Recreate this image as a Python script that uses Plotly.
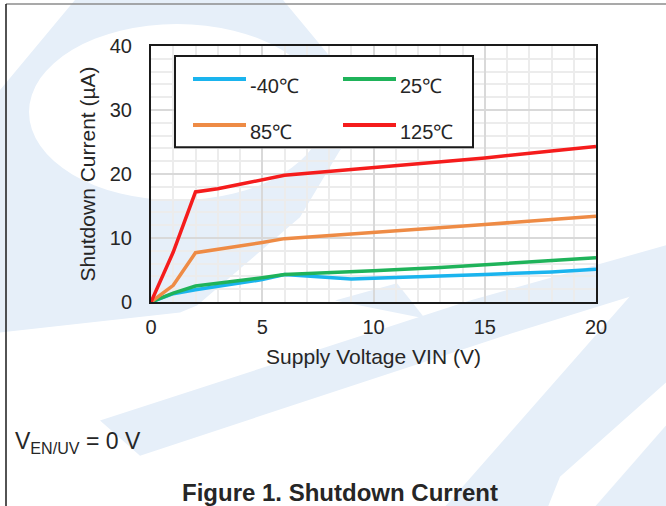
import plotly.graph_objects as go

# ---- data ----
vin = [0, 1, 2, 3, 4, 5, 6, 9, 10, 13, 15, 18, 20]
i_m40 = [0, 1.3, 1.9, 2.4, 2.9, 3.5, 4.3, 3.6, 3.7, 4.0, 4.3, 4.7, 5.1]
i_25 = [0, 1.4, 2.5, 2.9, 3.3, 3.8, 4.3, 4.7, 4.9, 5.4, 5.8, 6.4, 6.9]
i_85 = [0, 2.6, 7.7, 8.2, 8.7, 9.3, 9.9, 10.6, 10.8, 11.5, 12.1, 12.9, 13.4]
i_125 = [0, 7.8, 17.2, 17.7, 18.4, 19.1, 19.8, 20.7, 21.0, 21.9, 22.5, 23.6, 24.3]
series_names = ["-40℃", "25℃", "85℃", "125℃"]
series_colors = ["#1ab4ee", "#1fb35a", "#ee8b45", "#f51c1c"]
x_ticks = [0, 5, 10, 15, 20]
y_ticks = [0, 10, 20, 30, 40]

W, H = 666, 506
L, R, T, B = 151, 596, 46, 301.6
FONT = "Liberation Sans, Arial, sans-serif"
TXT = "#262626"
WM = "#e6eff9"


def px(x):
    return (x - L) / (R - L)


def py(y):
    return (B - y) / (B - T)


def poly(points):
    return "M " + " L ".join(f"{px(a):.4f},{py(b):.4f}" for a, b in points) + " Z"


fig = go.Figure()
for name, ys, col in zip(series_names, [i_m40, i_25, i_85, i_125], series_colors):
    fig.add_trace(go.Scatter(x=vin, y=ys, mode="lines", name=name,
                             line=dict(color=col, width=3.5), showlegend=False))

shapes = []
# faint background watermark
wm_polys = [
    [(0, 90), (75, 0), (283, 0), (376, 112), (340, 150), (300, 217), (197, 305), (180, 312), (0, 332)],
    [(100, 420), (470, 300), (666, 245), (666, 285), (505, 335), (140, 455)],
    [(445, 506), (666, 255), (666, 382), (560, 476), (548, 506)],
    [(595, 506), (666, 425), (666, 506)],
    [(335, 300), (397, 283), (425, 318)],
]
for p in wm_polys:
    shapes.append(dict(type="path", path=poly(p), xref="paper", yref="paper",
                       fillcolor=WM, line=dict(width=0), layer="below"))
shapes.append(dict(type="circle", xref="paper", yref="paper",
                   x0=px(29), x1=px(325), y0=py(200), y1=py(24),
                   fillcolor="white", line=dict(width=0), layer="below"))

# page frame lines
shapes.append(dict(type="line", xref="paper", yref="paper", x0=px(6), x1=px(666),
                   y0=py(4), y1=py(4), line=dict(color="#8c8c8c", width=1.5)))
shapes.append(dict(type="line", xref="paper", yref="paper", x0=px(6), x1=px(6),
                   y0=py(4), y1=py(506), line=dict(color="#1a1a1a", width=1.5)))

# legend box
shapes.append(dict(type="rect", xref="paper", yref="paper", x0=px(175), x1=px(473),
                   y0=py(147), y1=py(56), fillcolor="white",
                   line=dict(color="#1a1a1a", width=2), layer="above"))
leg_pos = [(193, 79), (343, 79), (193, 125), (343, 125)]
annotations = []
for (lx, ly), name, col in zip(leg_pos, series_names, series_colors):
    shapes.append(dict(type="line", xref="paper", yref="paper", x0=px(lx), x1=px(lx + 53),
                       y0=py(ly), y1=py(ly), line=dict(color=col, width=4), layer="above"))
    annotations.append(dict(text=name, xref="paper", yref="paper", x=px(lx + 55), y=py(ly + 7),
                            xanchor="left", yanchor="middle", showarrow=False,
                            font=dict(family=FONT, size=20, color=TXT)))

annotations.append(dict(text="V<sub>EN/UV</sub> = 0 V", xref="paper", yref="paper",
                        x=px(13), y=py(442), xanchor="left", yanchor="middle", showarrow=False,
                        font=dict(family=FONT, size=23, color=TXT)))
annotations.append(dict(text="<b>Figure 1. Shutdown Current</b>", xref="paper", yref="paper",
                        x=px(340), y=py(492), xanchor="center", yanchor="middle", showarrow=False,
                        font=dict(family=FONT, size=24, color=TXT)))

fig.update_layout(
    width=W, height=H,
    margin=dict(l=L, r=W - R, t=T, b=H - B, pad=0),
    paper_bgcolor="white", plot_bgcolor="rgba(0,0,0,0)",
    shapes=shapes, annotations=annotations, showlegend=False,
    font=dict(family=FONT, color=TXT),
)
fig.update_xaxes(
    range=[0, 20], tickvals=x_ticks, ticks="", ticklabelstandoff=6,
    tickfont=dict(size=20, color=TXT),
    showgrid=True, gridcolor="#d9d9d9", gridwidth=1.5,
    minor=dict(dtick=1, showgrid=True, gridcolor="#ececec", gridwidth=2),
    showline=True, mirror=True, linecolor="#1a1a1a", linewidth=2, zeroline=False,
    title=dict(text="Supply Voltage VIN (V)", font=dict(size=21, color=TXT), standoff=12),
    automargin=False,
)
fig.update_yaxes(
    range=[0, 40], tickvals=y_ticks, ticks="", ticklabelstandoff=13,
    tickfont=dict(size=20, color=TXT),
    showgrid=True, gridcolor="#d9d9d9", gridwidth=1.5,
    minor=dict(dtick=2, showgrid=True, gridcolor="#ececec", gridwidth=2),
    showline=True, mirror=True, linecolor="#1a1a1a", linewidth=2, zeroline=False,
    title=dict(text="Shutdown Current (µA)", font=dict(size=21, color=TXT), standoff=8),
    automargin=False,
)

fig.write_html("out.html")
